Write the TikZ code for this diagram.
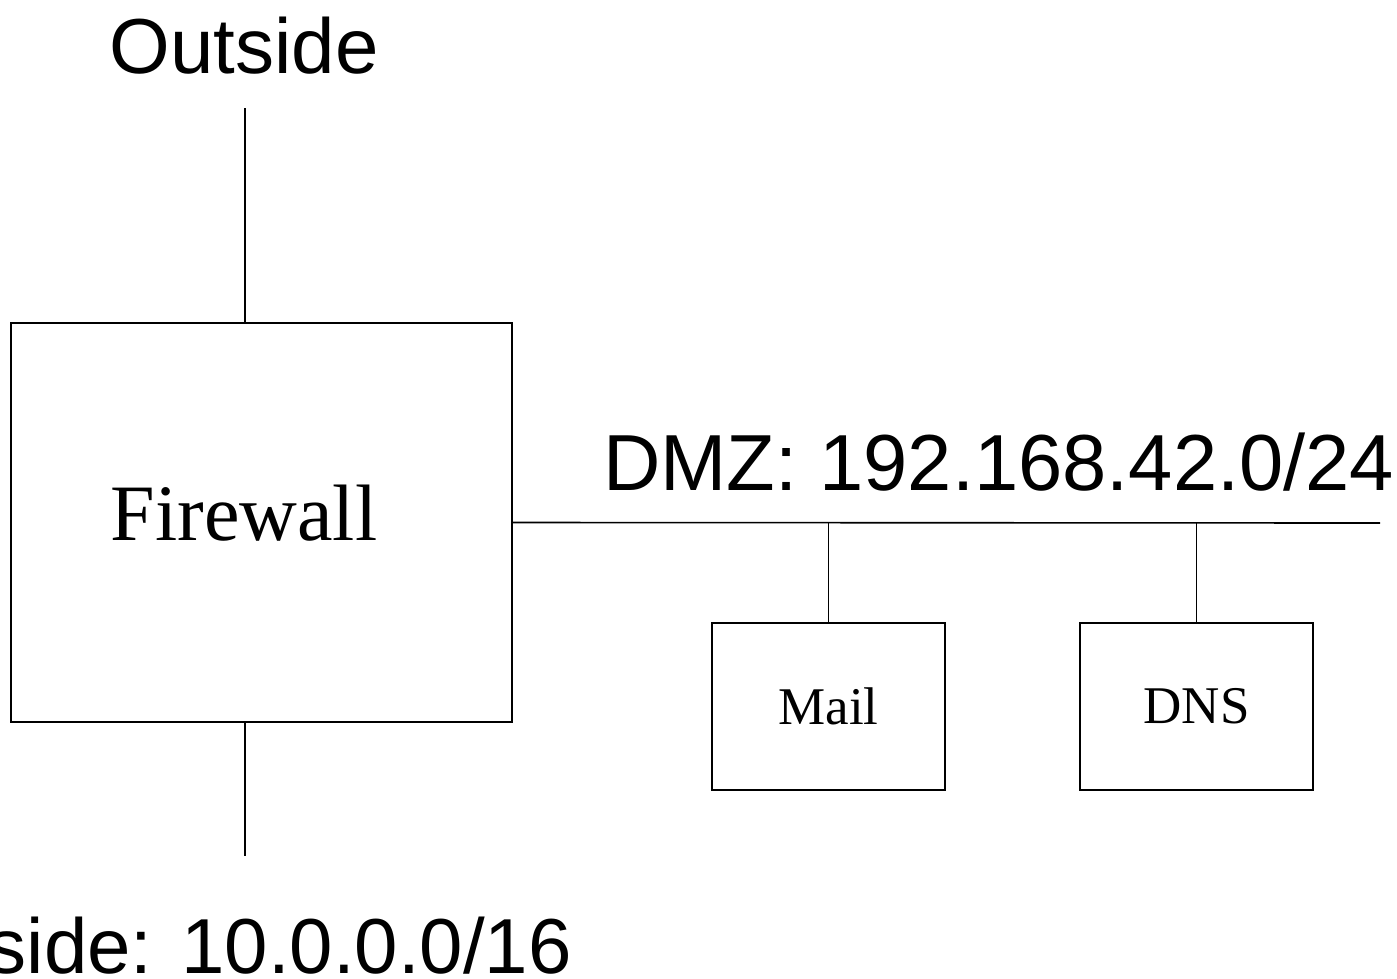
\documentclass[tikz,border=0pt]{standalone}
\usepackage{fontspec}
\setmainfont{Liberation Serif}
\newfontfamily\labelfont{Liberation Sans}
\begin{document}
\begin{tikzpicture}[x=1pt,y=-1pt,
  netline/.style={line width=1.6pt},
  boxstyle/.style={draw,line width=1.6pt,rectangle,inner sep=0pt},
  bigsans/.style={inner sep=0pt,font=\labelfont\fontsize{78}{90}\selectfont},
  dmzsans/.style={inner sep=0pt,font=\labelfont\fontsize{79.5}{92}\selectfont},
  serifbig/.style={inner sep=0pt,font=\fontsize{80}{92}\selectfont},
  serifsmall/.style={font=\fontsize{53}{62}\selectfont}]
\useasboundingbox (0,0) rectangle (1397,978);
\fill[white] (0,0) rectangle (1397,978);
% firewall box
\node[boxstyle,minimum width=501pt,minimum height=399pt] (fw) at (261.5,522.5) {};
\node[serifbig,anchor=base] (fwtext) at (244,540) {Firewall};
% outside
\node[bigsans,anchor=base] (outside) at (244,73) {Outside};
\coordinate (outend) at (245,108);
\coordinate (fwtop) at (245,323);
\draw[netline] (outend) -- (fwtop);
% inside
\node[bigsans,anchor=base east] (inside) at (572,973) {Inside: 10.0.0.0/16};
\coordinate (fwbot) at (245,722);
\coordinate (inend) at (245,856);
\draw[netline] (fwbot) -- (inend);
% DMZ
\node[dmzsans,anchor=base west] (dmz) at (603,490) {DMZ: 192.168.42.0/24};
\coordinate (dmzend) at (1380,523);
\draw[netline] (fw.east) -- (dmzend);
% servers
\node[boxstyle,serifsmall,minimum width=233pt,minimum height=167pt] (mail) at (828.5,706.5) {Mail};
\node[boxstyle,serifsmall,minimum width=233pt,minimum height=167pt] (dns) at (1196.5,706.5) {DNS};
\coordinate (mailtap) at (828.5,523);
\coordinate (dnstap) at (1196.5,523);
\draw[netline] (mailtap) -- (mail.north);
\draw[netline] (dnstap) -- (dns.north);
\end{tikzpicture}
\end{document}
